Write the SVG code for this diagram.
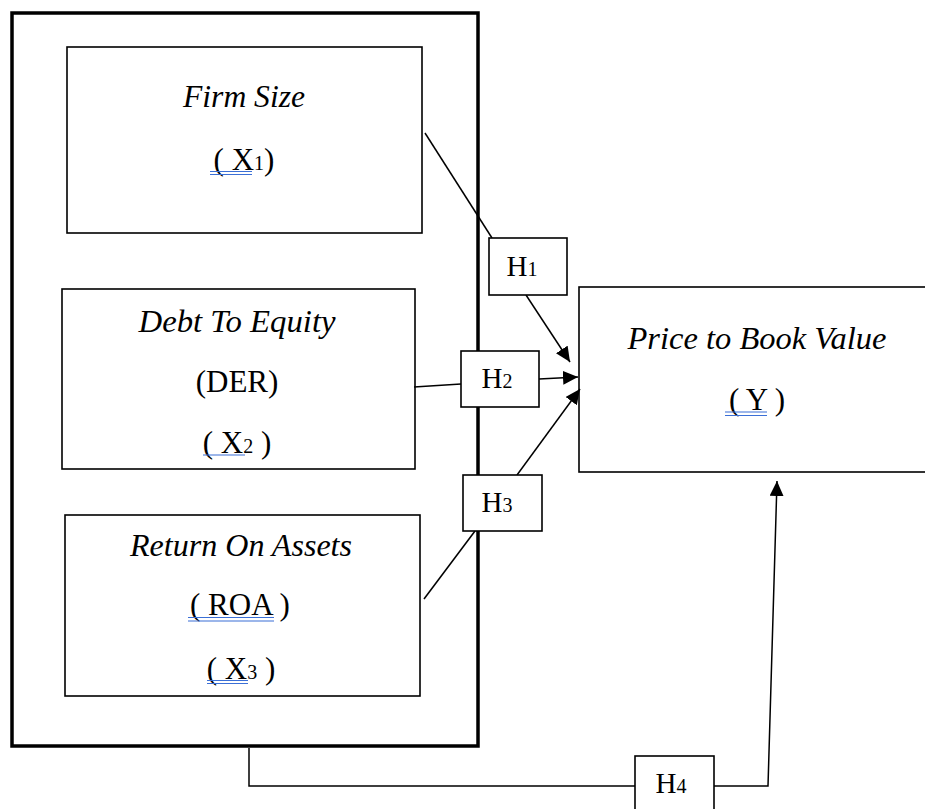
<svg xmlns="http://www.w3.org/2000/svg" width="925" height="809" viewBox="0 0 925 809">
<style>
.box{fill:#fff;stroke:#000;stroke-width:1.6}
.outer{fill:none;stroke:#000;stroke-width:3.5}
.t{font-family:"Liberation Serif","Times New Roman",serif;font-size:31px;fill:#000;text-anchor:middle}
.h{font-size:29px}
.i{font-style:italic}
.sub{font-size:20px}
.ln{fill:none;stroke:#000;stroke-width:1.5}
.ul{stroke:#3b6fd6;stroke-width:1.2}
</style>
<defs>
<marker id="ah" markerUnits="userSpaceOnUse" markerWidth="16" markerHeight="14" refX="15" refY="7" orient="auto">
<path d="M0,0 L15,7 L0,14 Z" fill="#000"/>
</marker>
</defs>
<rect width="925" height="809" fill="#fff"/>

<g id="group-box">
<rect class="outer" x="12" y="13" width="466" height="733"/>
</g>

<g id="firm-size">
<rect class="box" x="67" y="47" width="355" height="186"/>
<text class="t i" x="244" y="107" textLength="122" lengthAdjust="spacingAndGlyphs">Firm Size</text>
<text class="t" x="244" y="170">( X<tspan class="sub">1</tspan>)</text>
<line class="ul" x1="210" y1="171.5" x2="252" y2="171.5"/>
<line class="ul" x1="210" y1="174.5" x2="252" y2="174.5"/>
</g>

<g id="der">
<rect class="box" x="62" y="289" width="353" height="180"/>
<text class="t i" x="237" y="332" textLength="197" lengthAdjust="spacingAndGlyphs">Debt To Equity</text>
<text class="t" x="237" y="392">(DER)</text>
<text class="t" x="237" y="453">( X<tspan class="sub">2</tspan> )</text>
<line class="ul" x1="203" y1="455" x2="245" y2="455"/>
</g>

<g id="roa">
<rect class="box" x="65" y="515" width="355" height="181"/>
<text class="t i" x="241" y="556" textLength="222" lengthAdjust="spacingAndGlyphs">Return On Assets</text>
<text class="t" x="240" y="615">( ROA )</text>
<line class="ul" x1="188" y1="617.5" x2="274" y2="617.5"/>
<line class="ul" x1="188" y1="621" x2="274" y2="621"/>
<text class="t" x="241" y="679">( X<tspan class="sub">3</tspan> )</text>
<line class="ul" x1="207" y1="680.5" x2="248" y2="680.5"/>
<line class="ul" x1="207" y1="683.5" x2="248" y2="683.5"/>
</g>

<g id="pbv">
<rect class="box" x="579" y="287" width="370" height="185"/>
<text class="t i" x="757" y="349" textLength="259" lengthAdjust="spacingAndGlyphs">Price to Book Value</text>
<text class="t" x="757" y="410">( Y )</text>
<line class="ul" x1="725" y1="412" x2="767" y2="412"/>
<line class="ul" x1="725" y1="415.5" x2="767" y2="415.5"/>
</g>

<g id="connectors">
<line class="ln" x1="425" y1="133" x2="492" y2="238"/>
<line class="ln" x1="526" y1="295" x2="570" y2="362" marker-end="url(#ah)"/>
<line class="ln" x1="414" y1="387" x2="461" y2="384"/>
<line class="ln" x1="539" y1="379" x2="578" y2="377" marker-end="url(#ah)"/>
<line class="ln" x1="424" y1="599" x2="475" y2="531"/>
<line class="ln" x1="517" y1="475" x2="580" y2="389" marker-end="url(#ah)"/>
<path class="ln" d="M249,748 V786 H635"/>
<path class="ln" d="M714,786 H768 L777,481" marker-end="url(#ah)"/>
</g>

<g id="h1">
<rect class="box" x="489" y="238" width="78" height="57"/>
<text class="t h" x="522" y="276">H<tspan class="sub">1</tspan></text>
</g>
<g id="h2">
<rect class="box" x="461" y="351" width="78" height="56"/>
<text class="t h" x="497" y="388">H<tspan class="sub">2</tspan></text>
</g>
<g id="h3">
<rect class="box" x="463" y="475" width="79" height="56"/>
<text class="t h" x="497" y="512">H<tspan class="sub">3</tspan></text>
</g>
<g id="h4">
<rect class="box" x="635" y="756" width="79" height="60"/>
<text class="t h" x="671" y="793">H<tspan class="sub">4</tspan></text>
</g>
</svg>
